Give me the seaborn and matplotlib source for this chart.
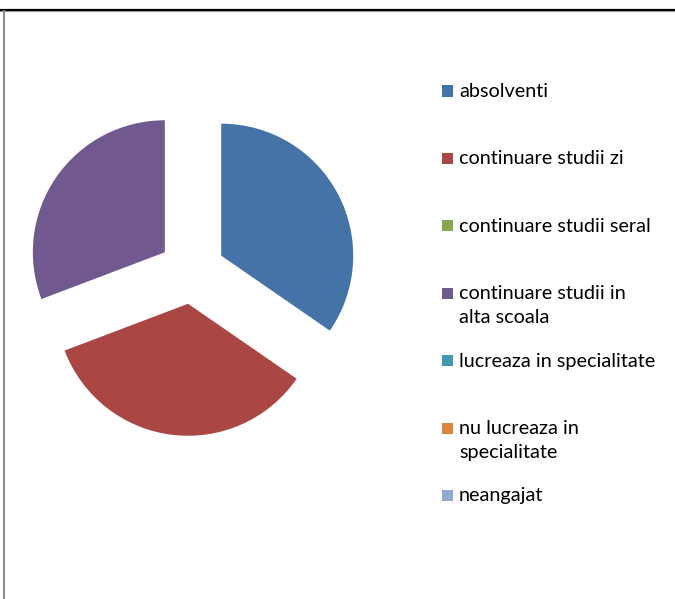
import matplotlib
matplotlib.use("Agg")
import matplotlib.pyplot as plt
import seaborn as sns
from matplotlib.lines import Line2D
from matplotlib.patches import Rectangle

categories = ["absolventi", "continuare studii zi", "continuare studii seral",
              "continuare studii in\nalta scoala", "lucreaza in specialitate",
              "nu lucreaza in\nspecialitate", "neangajat"]
values = [9, 9, 0, 8, 0, 0, 0]
colors = ["#4572A7", "#AA4643", "#89A54E", "#71588F", "#4198AF", "#DB843D", "#93A9CF"]

sns.set_theme(style="white")
plt.rcParams["font.family"] = ["Lato", "DejaVu Sans"]

W, H = 675, 599
fig = plt.figure(figsize=(W / 100, H / 100), dpi=100)
ax = fig.add_axes([0, 0, 1, 1])

palette = sns.color_palette(colors)
r = 132
ax.pie(values, colors=palette, startangle=90, counterclock=False,
       explode=[0.25 * r] * len(values), radius=r, center=(192, H - 271),
       wedgeprops=dict(linewidth=0))
ax.set_xlim(0, W)
ax.set_ylim(0, H)
ax.set_aspect("equal")
ax.axis("off")

# frame lines of the original screenshot
fig.add_artist(Line2D([0, 1], [1 - 9.5 / H, 1 - 9.5 / H], transform=fig.transFigure,
                      color="black", lw=1.6))
fig.add_artist(Line2D([0, 1], [1 - 11 / H, 1 - 11 / H], transform=fig.transFigure,
                      color="#999999", lw=0.8))
fig.add_artist(Line2D([4 / W, 4 / W], [0, 1 - 10.5 / H], transform=fig.transFigure,
                      color="#8c8c8c", lw=1.5))

# legend, Excel style: equal slots, wrapped text runs downward
for i, (lab, col) in enumerate(zip(categories, palette)):
    yc = 91 + i * 67.4
    fig.add_artist(Rectangle((442 / W, 1 - (yc + 5.5) / H), 11 / W, 11 / H,
                             transform=fig.transFigure, color=col, lw=0))
    fig.text(459 / W, 1 - (yc - 8) / H, lab, fontsize=14.3, va="top", ha="left",
             color="black", linespacing=1.5)

fig.savefig("out.png", dpi=100)
